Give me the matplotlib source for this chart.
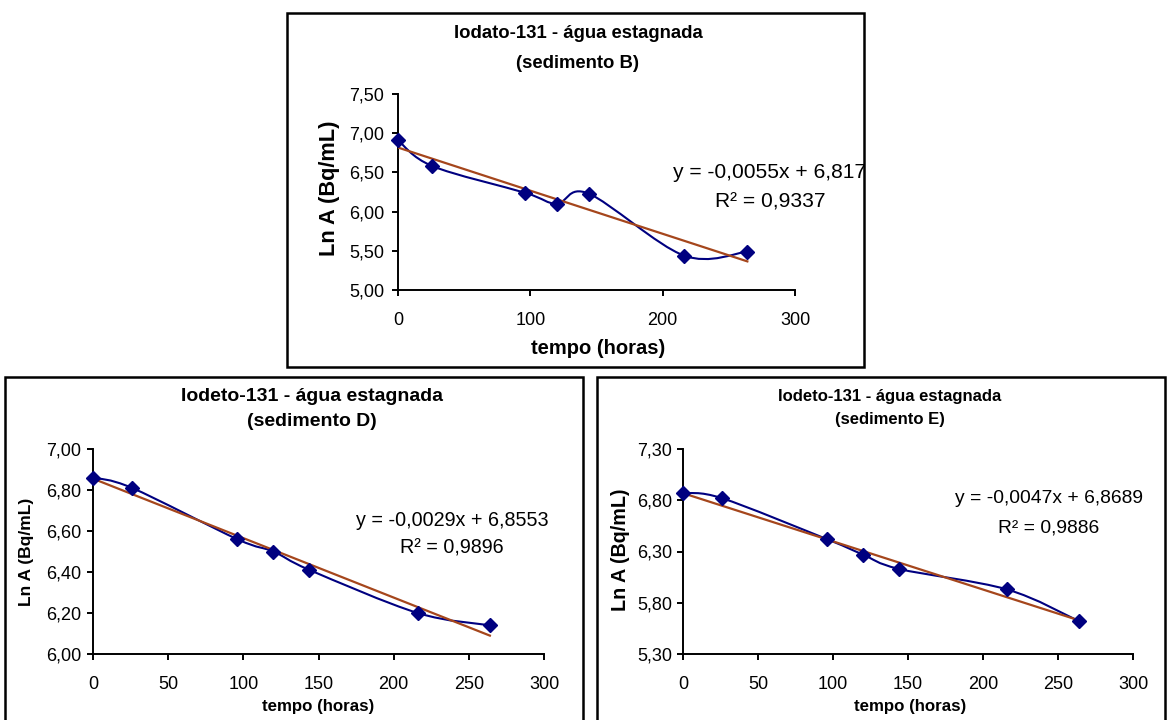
import numpy as np
import matplotlib
matplotlib.use('Agg')
import matplotlib.pyplot as plt
from matplotlib.path import Path
from matplotlib.patches import PathPatch, Rectangle
from matplotlib.ticker import FuncFormatter

plt.rcParams['font.family'] = ['Liberation Sans', 'DejaVu Sans']

W, H = 1168, 720

# dados
horas = [0, 26, 96, 120, 144, 216, 264]
ln_a_b = [6.91, 6.58, 6.24, 6.10, 6.23, 5.44, 5.49]
ln_a_d = [6.86, 6.81, 6.56, 6.50, 6.41, 6.20, 6.14]
ln_a_e = [6.87, 6.82, 6.42, 6.27, 6.13, 5.93, 5.62]

titulos_1 = ['Iodato-131 - água estagnada', 'Iodeto-131 - água estagnada', 'Iodeto-131 - água estagnada']
titulos_2 = ['(sedimento B)', '(sedimento D)', '(sedimento E)']

# linhas de tendencia (como impressas no grafico)
inclinacao = [-0.0055, -0.0029, -0.0047]
intercepto = [6.817, 6.8553, 6.8689]
equacoes = ['y = -0,0055x + 6,817', 'y = -0,0029x + 6,8553', 'y = -0,0047x + 6,8689']
r2_txt = ['R² = 0,9337', 'R² = 0,9896', 'R² = 0,9886']

ylims = [(5.0, 7.5, 0.5), (6.0, 7.0, 0.2), (5.3, 7.3, 0.5)]
xticks = [[0, 100, 200, 300], [0, 50, 100, 150, 200, 250, 300], [0, 50, 100, 150, 200, 250, 300]]

NAVY = '#000080'
BROWN = '#A5461C'


def fx(x):
    return x / W


def fy(y):
    return 1 - y / H


def smooth_path(x, y):
    # curva suave tipo Excel (Bezier com tangentes Catmull-Rom)
    p = np.column_stack([x, y]).astype(float)
    n = len(p)
    verts = [p[0]]
    codes = [Path.MOVETO]
    for i in range(n - 1):
        p0 = p[i - 1] if i > 0 else p[i]
        p3 = p[i + 2] if i + 2 < n else p[i + 1]
        verts += [p[i] + (p[i + 1] - p0) / 6, p[i + 1] - (p3 - p[i]) / 6, p[i + 1]]
        codes += [Path.CURVE4] * 3
    return Path(verts, codes)


fig = plt.figure(figsize=(W / 100, H / 100), dpi=100)

# caixa dos eixos em px (esq, topo, dir, base), moldura e posicoes dos textos
paineis = [
    dict(y=ln_a_b, box=(398, 94, 795, 290), border=(287, 13, 864, 367),
         t1=(578, 33), t2=(578, 63), tsize=13.3,
         ylab=(330, 188), ylsize=15.7, xlab=(598, 348), xlsize=14.5,
         tick=13, ypad=6, eqpos=(281, 6.50, 6.125), eqsize=15.1),
    dict(y=ln_a_d, box=(93, 449, 544, 654), border=(5, 377, 583, 740),
         t1=(312, 396), t2=(312, 422), tsize=14,
         ylab=(27, 552), ylsize=12.5, xlab=(318, 706), xlsize=12.2,
         tick=13, ypad=4.5, eqpos=(239, 6.651, 6.518), eqsize=14.2),
    dict(y=ln_a_e, box=(683, 449, 1133, 654), border=(597, 377, 1165, 740),
         t1=(890, 396), t2=(890, 419), tsize=12,
         ylab=(620, 550), ylsize=14.2, xlab=(910, 707), xlsize=12.2,
         tick=13, ypad=4, eqpos=(244, 6.815, 6.526), eqsize=13.9),
]

fmt = FuncFormatter(lambda v, p: f'{v:.2f}'.replace('.', ','))

for i, pn in enumerate(paineis):
    l, t, r, b = pn['box']
    ax = fig.add_axes([fx(l), fy(b), fx(r) - fx(l), fy(t) - fy(b)])
    ax.patch.set_alpha(0)

    # curva suavizada + marcadores
    ax.add_patch(PathPatch(smooth_path(horas, pn['y']), facecolor='none',
                           edgecolor=NAVY, lw=1.5, zorder=3))
    ax.plot(horas, pn['y'], linestyle='none', marker='D', ms=6.8,
            color=NAVY, zorder=4, clip_on=False)

    # linha de tendencia
    xt = np.array([horas[0], horas[-1]])
    ax.plot(xt, inclinacao[i] * xt + intercepto[i], color=BROWN, lw=1.6, zorder=3)

    y0, y1, st = ylims[i]
    ax.set_ylim(y0, y1)
    ax.set_yticks(np.arange(y0, y1 + st / 2, st))
    ax.yaxis.set_major_formatter(fmt)
    ax.set_xlim(0, 300)
    ax.set_xticks(xticks[i])

    for s in ['top', 'right']:
        ax.spines[s].set_visible(False)
    for s in ['left', 'bottom']:
        ax.spines[s].set_linewidth(1.4)
    ax.tick_params(axis='both', direction='out', length=4, width=1.4,
                   labelsize=pn['tick'])
    ax.tick_params(axis='x', pad=12)
    ax.tick_params(axis='y', pad=pn['ypad'])

    ex, ey1, ey2 = pn['eqpos']
    ax.text(ex, ey1, equacoes[i], ha='center', va='center', fontsize=pn['eqsize'])
    ax.text(ex, ey2, r2_txt[i], ha='center', va='center', fontsize=pn['eqsize'])

    fig.text(fx(pn['t1'][0]), fy(pn['t1'][1]), titulos_1[i], ha='center', va='center',
             fontsize=pn['tsize'], fontweight='bold')
    fig.text(fx(pn['t2'][0]), fy(pn['t2'][1]), titulos_2[i], ha='center', va='center',
             fontsize=pn['tsize'], fontweight='bold')
    fig.text(fx(pn['ylab'][0]), fy(pn['ylab'][1]), 'Ln A (Bq/mL)', rotation=90,
             ha='center', va='center', fontsize=pn['ylsize'], fontweight='bold')
    fig.text(fx(pn['xlab'][0]), fy(pn['xlab'][1]), 'tempo (horas)', ha='center',
             va='center', fontsize=pn['xlsize'], fontweight='bold')

    bl, bt, br, bb = pn['border']
    fig.patches.append(Rectangle((fx(bl), fy(bb)), fx(br) - fx(bl), fy(bt) - fy(bb),
                                 transform=fig.transFigure, fill=False,
                                 edgecolor='black', lw=1.8, zorder=0))

fig.savefig('out.png', dpi=100, facecolor='white')
